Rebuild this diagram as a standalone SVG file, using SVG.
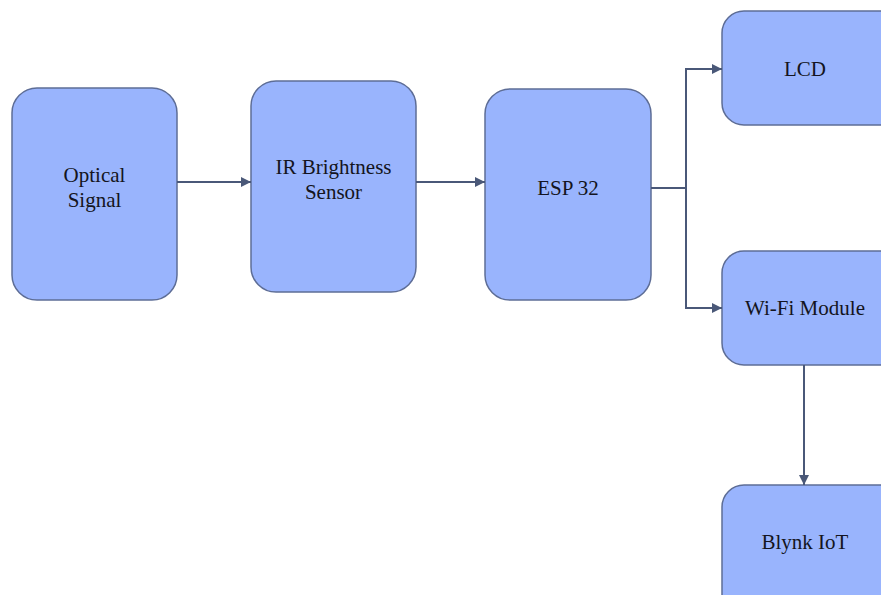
<svg xmlns="http://www.w3.org/2000/svg" width="881" height="595" viewBox="0 0 881 595">
  <defs>
    <marker id="arrow" viewBox="0 0 10 10" refX="10" refY="5" markerWidth="10" markerHeight="10" markerUnits="userSpaceOnUse" orient="auto">
      <path d="M0,0 L10,5 L0,10 Z" fill="#4a5878"/>
    </marker>
    <style>
      .box { fill: #99b4fd; stroke: #5d6d96; stroke-width: 1.5; }
      .lbl { font-size: 21px; fill: #141420; text-anchor: middle; }
      .wire { fill: none; stroke: #4a5878; stroke-width: 2; }
    </style>
  </defs>
  <rect width="881" height="595" fill="#ffffff"/>

  <g font-family="Liberation Serif, Times New Roman, serif">
  <g id="optical-signal">
    <rect class="box" x="12" y="88" width="165" height="212" rx="25"/>
    <text class="lbl" x="94.5" y="182">Optical</text>
    <text class="lbl" x="94.5" y="207">Signal</text>
  </g>
  <g id="ir-sensor">
    <rect class="box" x="251" y="81" width="165" height="211" rx="25"/>
    <text class="lbl" x="333.5" y="174">IR Brightness</text>
    <text class="lbl" x="333.5" y="199">Sensor</text>
  </g>
  <g id="esp32">
    <rect class="box" x="485" y="89" width="166" height="211" rx="25"/>
    <text class="lbl" x="568" y="195">ESP 32</text>
  </g>
  <g id="lcd">
    <rect class="box" x="722" y="11" width="185" height="114" rx="22"/>
    <text class="lbl" x="805" y="76">LCD</text>
  </g>
  <g id="wifi-module">
    <rect class="box" x="722" y="251" width="185" height="114" rx="22"/>
    <text class="lbl" x="805" y="315">Wi-Fi Module</text>
  </g>
  <g id="blynk-iot">
    <rect class="box" x="722" y="485" width="185" height="140" rx="22"/>
    <text class="lbl" x="805" y="549">Blynk IoT</text>
  </g>
  </g>

  <g id="connectors">
    <path class="wire" d="M177,182 H251" marker-end="url(#arrow)"/>
    <path class="wire" d="M416,182 H485" marker-end="url(#arrow)"/>
    <path class="wire" d="M651,188 H686 V69 H722" marker-end="url(#arrow)"/>
    <path class="wire" d="M686,188 V308 H722" marker-end="url(#arrow)"/>
    <path class="wire" d="M804,365 V485" marker-end="url(#arrow)"/>
  </g>
</svg>
